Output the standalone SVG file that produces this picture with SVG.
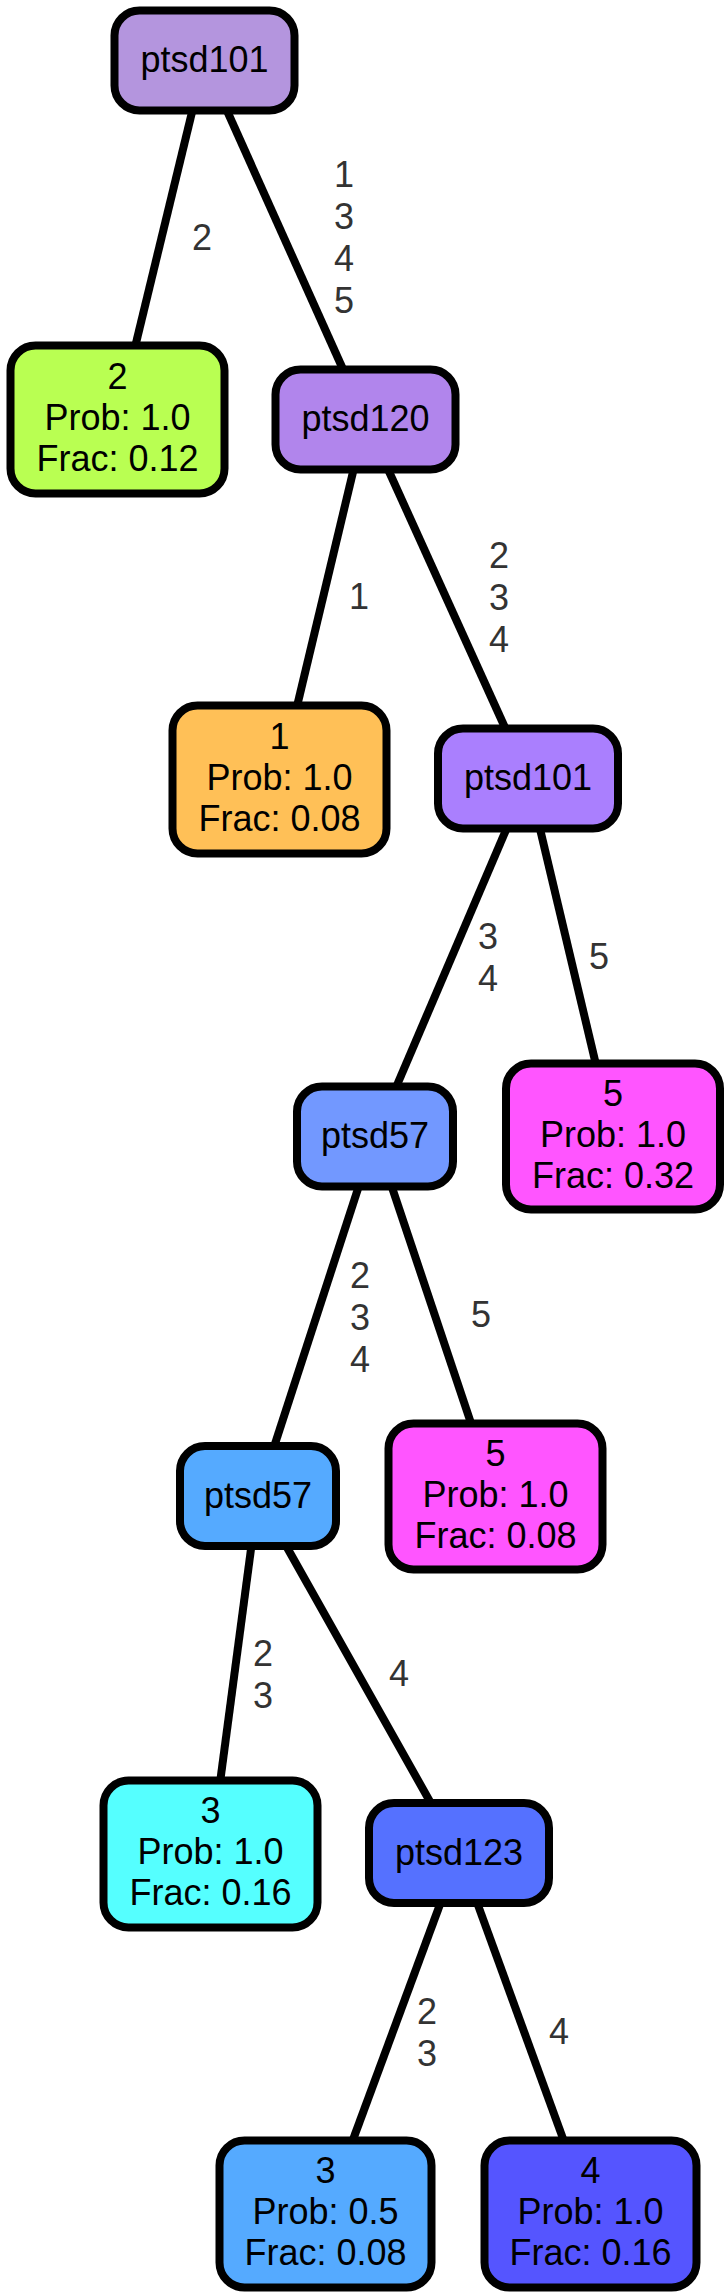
<svg xmlns="http://www.w3.org/2000/svg" width="728" height="2296" viewBox="0 0 728 2296">
<style>
.n rect{stroke:#000;stroke-width:8}
.n text{font-family:"Liberation Sans",Arial,Helvetica,sans-serif;font-size:36px;fill:#000;text-anchor:middle}
#edges line{stroke:#000;stroke-width:8;stroke-linecap:butt}
#edges text{font-family:"Liberation Sans",Arial,Helvetica,sans-serif;font-size:36px;fill:#333;text-anchor:middle}
</style>
<rect x="0" y="0" width="728" height="2296" fill="#fff"/>
<g id="edges">
<line x1="192.4" y1="110.5" x2="135.4" y2="345.5"/>
<text x="202" y="250">2</text>
<line x1="226.9" y1="110.5" x2="343.1" y2="369.5"/>
<text x="344" y="187">1</text><text x="344" y="229">3</text><text x="344" y="271">4</text><text x="344" y="313">5</text>
<line x1="353.6" y1="469.5" x2="297.2" y2="705.5"/>
<text x="359" y="609">1</text>
<line x1="388.1" y1="469.5" x2="505.4" y2="728.5"/>
<text x="499" y="568">2</text><text x="499" y="610">3</text><text x="499" y="652">4</text>
<line x1="506.6" y1="828.5" x2="396.4" y2="1086.5"/>
<text x="488" y="949">3</text><text x="488" y="991">4</text>
<line x1="539.9" y1="828.5" x2="595.7" y2="1063.5"/>
<text x="599" y="969">5</text>
<line x1="358.7" y1="1186.5" x2="274.3" y2="1446"/>
<text x="360" y="1288">2</text><text x="360" y="1330">3</text><text x="360" y="1372">4</text>
<line x1="391.7" y1="1186.5" x2="471.1" y2="1423.5"/>
<text x="481" y="1327">5</text>
<line x1="251.4" y1="1546" x2="220.3" y2="1780.5"/>
<text x="263" y="1666">2</text><text x="263" y="1708">3</text>
<line x1="286.2" y1="1546" x2="430.8" y2="1803"/>
<text x="399" y="1686">4</text>
<line x1="440.5" y1="1903" x2="352.7" y2="2140.5"/>
<text x="427" y="2024">2</text><text x="427" y="2066">3</text>
<line x1="477.2" y1="1903" x2="563.7" y2="2140.5"/>
<text x="559" y="2044">4</text>
</g>
<g id="n0" class="n"><rect x="114.5" y="10.5" width="180" height="100" rx="25" fill="#b495de"/><text x="204.5" y="72">ptsd101</text></g>
<g id="n1" class="n"><rect x="10.5" y="345.5" width="214" height="148" rx="25" fill="#b9ff52"/><text x="117.5" y="388.5">2</text><text x="117.5" y="429.5">Prob: 1.0</text><text x="117.5" y="470.5">Frac: 0.12</text></g>
<g id="n2" class="n"><rect x="275.5" y="369.5" width="180" height="100" rx="25" fill="#b185ec"/><text x="365.5" y="431">ptsd120</text></g>
<g id="n3" class="n"><rect x="172.5" y="705.5" width="214" height="148" rx="25" fill="#ffc057"/><text x="279.5" y="748.5">1</text><text x="279.5" y="789.5">Prob: 1.0</text><text x="279.5" y="830.5">Frac: 0.08</text></g>
<g id="n4" class="n"><rect x="438" y="728.5" width="180" height="100" rx="25" fill="#aa7ffe"/><text x="528" y="790">ptsd101</text></g>
<g id="n5" class="n"><rect x="297" y="1086.5" width="156" height="100" rx="25" fill="#7298ff"/><text x="375" y="1148">ptsd57</text></g>
<g id="n6" class="n"><rect x="506" y="1063.5" width="214" height="146" rx="25" fill="#ff55ff"/><text x="613" y="1105.5">5</text><text x="613" y="1146.5">Prob: 1.0</text><text x="613" y="1187.5">Frac: 0.32</text></g>
<g id="n7" class="n"><rect x="180" y="1446" width="156" height="100" rx="25" fill="#55aaff"/><text x="258" y="1507.5">ptsd57</text></g>
<g id="n8" class="n"><rect x="388.5" y="1423.5" width="214" height="146" rx="25" fill="#ff55ff"/><text x="495.5" y="1465.5">5</text><text x="495.5" y="1506.5">Prob: 1.0</text><text x="495.5" y="1547.5">Frac: 0.08</text></g>
<g id="n9" class="n"><rect x="103.5" y="1780.5" width="214" height="147" rx="25" fill="#55ffff"/><text x="210.5" y="1823">3</text><text x="210.5" y="1864">Prob: 1.0</text><text x="210.5" y="1905">Frac: 0.16</text></g>
<g id="n10" class="n"><rect x="369" y="1803" width="180" height="100" rx="25" fill="#5571ff"/><text x="459" y="1864.5">ptsd123</text></g>
<g id="n11" class="n"><rect x="219.5" y="2140.5" width="212" height="147" rx="25" fill="#55aaff"/><text x="325.5" y="2183">3</text><text x="325.5" y="2224">Prob: 0.5</text><text x="325.5" y="2265">Frac: 0.08</text></g>
<g id="n12" class="n"><rect x="484.5" y="2140.5" width="212" height="147" rx="25" fill="#5555ff"/><text x="590.5" y="2183">4</text><text x="590.5" y="2224">Prob: 1.0</text><text x="590.5" y="2265">Frac: 0.16</text></g>
</svg>
